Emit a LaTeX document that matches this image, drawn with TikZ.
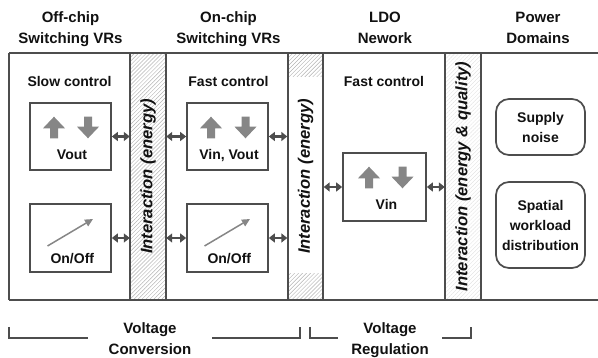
\documentclass[tikz,border=0pt]{standalone}
\usepackage{fontspec}
\setmainfont{Liberation Sans}
\usetikzlibrary{arrows.meta,patterns.meta}
\definecolor{frame}{HTML}{4D4D4D}
\definecolor{blk}{HTML}{868686}
\definecolor{txt}{HTML}{111111}
\tikzset{
  hdr/.style={font=\bfseries\fontsize{15}{21}\selectfont, text=txt, inner sep=0, anchor=base},
  lbl/.style={font=\bfseries\fontsize{14}{20}\selectfont, text=txt, inner sep=0, anchor=base},
  inter/.style={font=\bfseries\itshape\fontsize{16.6}{20}\selectfont, rotate=90, text=txt, inner sep=0},
  ctlbox/.style={draw=frame, line width=1.7pt, minimum width=81pt, minimum height=67pt, inner sep=0},
  pdbox/.style={draw=frame, line width=1.7pt, rounded corners=13pt, minimum width=89pt, inner sep=0,
    align=center, font=\bfseries\fontsize{14}{20}\selectfont, text=txt},
  stripnode/.style={minimum width=36pt, minimum height=247pt, inner sep=0},
  hatch/.style={pattern={Lines[angle=45,distance=2.8pt,line width=0.45pt]}, pattern color=gray!60},
  fainthatch/.style={pattern={Lines[angle=45,distance=2.8pt,line width=0.45pt]}, pattern color=gray!22},
  frameline/.style={draw=frame, line width=1.7pt},
  dbl/.style={{Triangle[length=6pt,width=9pt]}-{Triangle[length=6pt,width=9pt]}, draw=frame, line width=2.2pt},
  dial/.style={-{Triangle[length=8pt,width=7.5pt]}, draw=blk, line width=1.5pt},
  uparr/.pic={\fill[blk] (0,-10.8) -- (11,0.8) -- (4,0.8) -- (4,10.8) -- (-4,10.8) -- (-4,0.8) -- (-11,0.8) -- cycle;},
  downarr/.pic={\fill[blk] (0,10.8) -- (11,-0.8) -- (4,-0.8) -- (4,-10.8) -- (-4,-10.8) -- (-4,-0.8) -- (-11,-0.8) -- cycle;},
}
\begin{document}
\begin{tikzpicture}[x=1pt,y=-1pt]
\useasboundingbox (0,0) rectangle (598,358);

% strips (hatched interaction columns)
\node[stripnode, hatch] (s1) at (148,176.5) {};
\node[stripnode] (s2) at (305.5,176.5) {};
\fill[hatch] (288,53) rectangle (323,77);
\fill[hatch] (288,274) rectangle (323,300);
\node[stripnode, fainthatch] (s3) at (463,176.5) {};

% frame
\draw[frameline] (9,53) -- (598,53);
\draw[frameline] (9,300) -- (598,300);
\foreach \xx in {9,130,166,288,323,445,481}
  \draw[frameline] (\xx,53) -- (\xx,300);

% headers
\node[hdr] (h1a) at (70.5,23) {Off-chip};
\node[hdr] (h1b) at (70.5,44) {Switching VRs};
\node[hdr] (h2a) at (228.5,23) {On-chip};
\node[hdr] (h2b) at (228.5,44) {Switching VRs};
\node[hdr] (h3a) at (385,23) {LDO};
\node[hdr] (h3b) at (385,44) {Nework};
\node[hdr] (h4a) at (538,23) {Power};
\node[hdr] (h4b) at (538,44) {Domains};

% column labels
\node[lbl] (c1) at (69.5,87) {Slow control};
\node[lbl] (c2) at (228.5,87) {Fast control};
\node[lbl] (c3) at (384,87) {Fast control};

% interaction texts
\node[inter] (i1) at (148,176.5) {Interaction (energy)};
\node[inter] (i2) at (305.5,176.5) {Interaction (energy)};
\node[inter] (i3) at (463,176.5) {Interaction (energy \& quality)};

% column 1 boxes
\node[ctlbox] (vout) at (70.5,136.5) {};
\pic at (54,127.5) {uparr};
\pic at (88,127.5) {downarr};
\node[lbl] (voutt) at (72,159.5) {Vout};
\node[ctlbox, minimum height=68pt] (oo1) at (70.5,238) {};
\coordinate (d1s) at (47.5,246);
\coordinate (d1e) at (93,219);
\draw[dial] (d1s) -- (d1e);
\node[lbl] (oo1t) at (72.3,264) {On/Off};

% column 2 boxes
\node[ctlbox] (vv) at (227.5,136.5) {};
\pic at (211,127.5) {uparr};
\pic at (245.5,127.5) {downarr};
\node[lbl] (vvt) at (229,159.5) {Vin, Vout};
\node[ctlbox, minimum height=68pt] (oo2) at (227.5,238) {};
\coordinate (d2s) at (204.5,246);
\coordinate (d2e) at (250,219);
\draw[dial] (d2s) -- (d2e);
\node[lbl] (oo2t) at (229.3,264) {On/Off};

% LDO box
\node[ctlbox, minimum width=83pt, minimum height=68pt] (vin) at (384.5,187) {};
\pic at (369,177.5) {uparr};
\pic at (402.5,177.5) {downarr};
\node[lbl] (vint) at (386.5,210) {Vin};

% double arrows
\draw[dbl] (vout.east) -- (vout.east -| s1.west);
\draw[dbl] (oo1.east) -- (oo1.east -| s1.west);
\draw[dbl] (s1.east |- vv.west) -- (vv.west);
\draw[dbl] (s1.east |- oo2.west) -- (oo2.west);
\draw[dbl] (vv.east) -- (vv.east -| s2.west);
\draw[dbl] (oo2.east) -- (oo2.east -| s2.west);
\draw[dbl] (s2.east |- vin.west) -- (vin.west);
\draw[dbl] (vin.east) -- (vin.east -| s3.west);

% power domains
\node[pdbox, minimum height=56pt] (sn) at (540.5,127) {Supply\\noise};
\node[pdbox, minimum height=86pt] (sw) at (540.5,225) {Spatial\\workload\\distribution};

% bottom brackets
\node[hdr] (vc1) at (150,333.5) {Voltage};
\node[hdr] (vc2) at (150,354.5) {Conversion};
\node[hdr] (vr1) at (390,333.5) {Voltage};
\node[hdr] (vr2) at (390,354.5) {Regulation};
\draw[frameline] (9,327) -- (9,338) -- (88,338);
\draw[frameline] (212,338) -- (300,338) -- (300,327);
\draw[frameline] (310,327) -- (310,338) -- (338,338);
\draw[frameline] (442,338) -- (471,338) -- (471,327);
\end{tikzpicture}
\end{document}
